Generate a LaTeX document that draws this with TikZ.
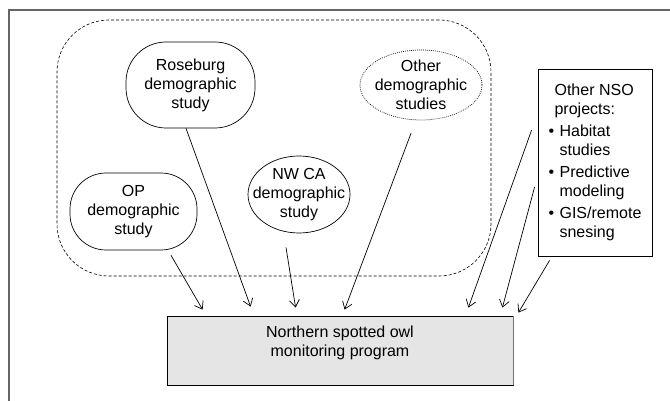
\documentclass[tikz,border=0pt]{standalone}
\usepackage{fontspec}
\setmainfont{Liberation Sans}
\usetikzlibrary{arrows.meta,shapes.geometric,calc}
\begin{document}
\begin{tikzpicture}[x=1pt,y=-1pt,
  font=\fontsize{16}{19}\selectfont,
  bub/.style={draw, line width=0.7pt, rounded corners=#1, align=center, inner sep=0pt},
  ellbox/.style={draw, ellipse, line width=0.7pt, inner sep=0pt},
  txt/.style={align=center, inner sep=0pt},
  arr/.style={-{Straight Barb[length=7pt,width=10pt]}, line width=0.7pt}]
\useasboundingbox (0,0) rectangle (670,401);
\draw[line width=1.3pt, draw=black!60] (9,401) -- (9,10) -- (670,10);
% dashed group
\node[draw, dash pattern=on 3pt off 2pt, line width=0.6pt, rounded corners=52pt,
      minimum width=434pt, minimum height=256pt, inner sep=0pt] (grp) at (274,148) {};
% study nodes
\node[bub=40pt, minimum width=129pt, minimum height=86pt] (ros) at (190.5,85) {Roseburg\\demographic\\study};
\node[bub=36pt, minimum width=127pt, minimum height=77pt] (op) at (133.5,211.5) {OP\\demographic\\study};
\node[ellbox, minimum width=102pt, minimum height=77pt] (nwca) at (299,194.5) {};
\node[txt] (nwcat) at (nwca.center) {NW CA\\demographic\\study};
\node[ellbox, dash pattern=on 0.8pt off 1.2pt, minimum width=122pt, minimum height=70pt] (oth) at (421,85) {};
\node[txt] (otht) at (oth.center) {Other\\demographic\\studies};
% other projects
\node[draw, line width=0.8pt, minimum width=114pt, minimum height=187pt, align=left, inner sep=0pt] (proj) at (595,162.5)
 {\hspace*{6pt}Other NSO\\
  \hspace*{6pt}projects:\\[3pt]
  \makebox[11pt][l]{\textbullet}Habitat\\
  \hspace*{11pt}studies\\[3pt]
  \makebox[11pt][l]{\textbullet}Predictive\\
  \hspace*{11pt}modeling\\[3pt]
  \makebox[11pt][l]{\textbullet}GIS/remote\\
  \hspace*{11pt}snesing};
% monitoring program
\node[draw, fill=black!10, line width=0.8pt, minimum width=346pt, minimum height=69pt, inner sep=0pt] (mon) at (340,350.5) {};
\draw[black!55, line width=1.6pt] (mon.north east) -- (mon.south east);
\node[txt] (mont) at (340,342.5) {Northern spotted owl\\monitoring program};
% arrows
\draw[arr] ($(op.south)+(37.5,5)$) -- ($(mon.north west)+(36,-6)$);
\draw[arr] ($(ros.south)+(-4.5,0)$) -- ($(mon.north west)+(84,-9)$);
\draw[arr] ($(nwca.south)+(-13,14)$) -- ($(mon.north west)+(129,-8)$);
\draw[arr] ($(oth.south)+(-10,13)$) -- ($(mon.north west)+(178,-6)$);
\draw[arr] ($(proj.west)+(-6,-32.5)$) -- ($(mon.north east)+(-45,-8)$);
\draw[arr] ($(proj.west)+(-3,24.5)$) -- ($(mon.north east)+(-11,-8)$);
\draw[arr] ($(proj.south west)+(12,4)$) -- ($(mon.north east)+(5,-3)$);
\end{tikzpicture}
\end{document}
